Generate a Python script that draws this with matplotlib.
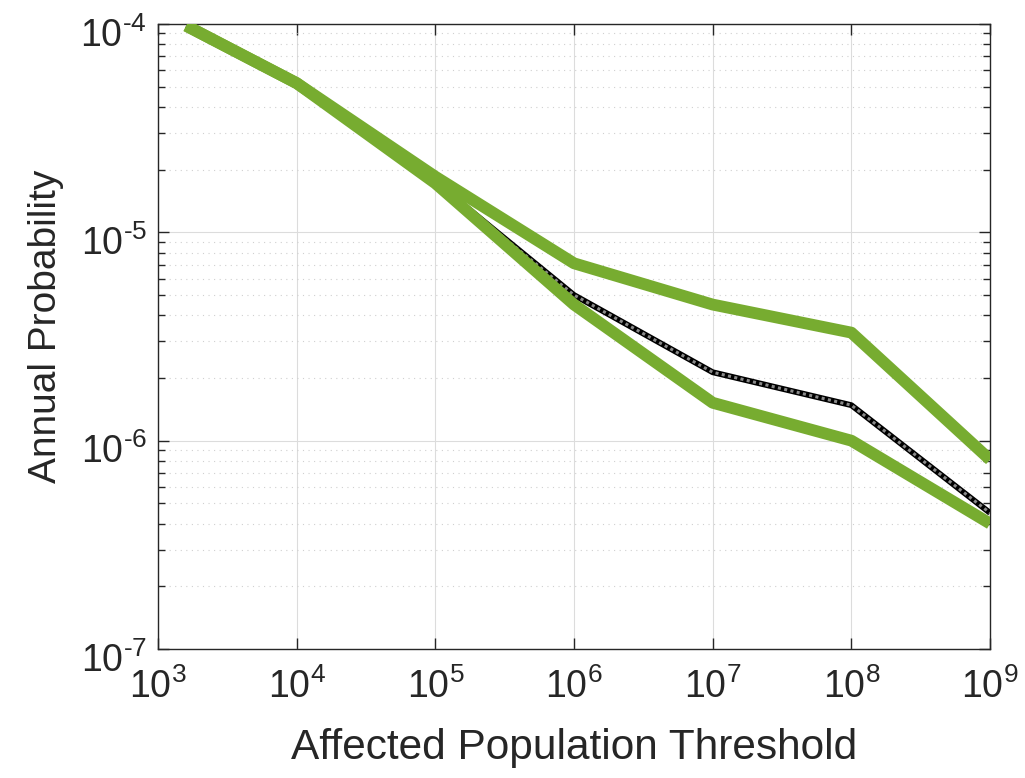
import matplotlib
matplotlib.use("Agg")
import matplotlib.pyplot as plt
import matplotlib.transforms as mtransforms
from matplotlib.ticker import LogLocator, NullLocator, NullFormatter

plt.rcParams['font.family'] = ['Liberation Sans', 'DejaVu Sans']
plt.rcParams['mathtext.fontset'] = 'custom'
plt.rcParams['mathtext.rm'] = 'Liberation Sans'
plt.rcParams['mathtext.it'] = 'Liberation Sans'

# Data
thresholds = [1.6e3, 1e4, 1e5, 1e6, 1e7, 1e8, 1e9]
upper = [9.8e-5, 5.2e-5, 1.85e-5, 7.1e-6, 4.5e-6, 3.3e-6, 8.1e-7]
lower = [9.8e-5, 5.2e-5, 1.72e-5, 4.5e-6, 1.52e-6, 1.0e-6, 4.0e-7]
mean = [9.8e-5, 5.2e-5, 1.75e-5, 5.0e-6, 2.13e-6, 1.48e-6, 4.5e-7]

xticks = [1e3, 1e4, 1e5, 1e6, 1e7, 1e8, 1e9]
xticklabels = ['$10^{3}$', '$10^{4}$', '$10^{5}$', '$10^{6}$', '$10^{7}$', '$10^{8}$', '$10^{9}$']
yticks = [1e-7, 1e-6, 1e-5, 1e-4]
yticklabels = ['$10^{\\text{-7}}$', '$10^{\\text{-6}}$', '$10^{\\text{-5}}$', '$10^{\\text{-4}}$']

fig = plt.figure(figsize=(10.25, 7.78), dpi=100)
ax = fig.add_axes([0.1541, 0.1658, 0.8118, 0.8034])

green = '#77AC30'
ax.plot(thresholds, mean, color='black', lw=4.2, solid_capstyle='butt', zorder=3)
ax.plot(thresholds, mean, color='#8a8a8a', lw=2.2, ls=(0, (1, 1.1)), zorder=4)
ax.plot(thresholds, upper, color=green, lw=8.5, solid_capstyle='butt', zorder=5)
ax.plot(thresholds, lower, color=green, lw=8.5, solid_capstyle='butt', zorder=5)

ax.set_xscale('log')
ax.set_yscale('log')
ax.set_xlim(1e3, 1e9)
ax.set_ylim(1e-7, 1e-4)

ax.set_xticks(xticks)
ax.set_xticklabels(xticklabels)
ax.set_yticks(yticks)
ax.set_yticklabels(yticklabels)
ax.xaxis.set_minor_locator(NullLocator())
ax.yaxis.set_minor_locator(LogLocator(base=10, subs=range(2, 10)))
ax.yaxis.set_minor_formatter(NullFormatter())

axc = '#262626'
ax.tick_params(which='both', direction='in', top=True, right=True, colors=axc,
               labelsize=27, width=1.0)
ax.tick_params(which='major', length=8)
ax.tick_params(axis='x', which='major', pad=14)
ax.tick_params(axis='y', which='major', pad=8)
ax.tick_params(which='minor', length=5)
for s in ax.spines.values():
    s.set_color(axc)
    s.set_linewidth(1.0)

offset = mtransforms.ScaledTranslation(0, -8 / 100, fig.dpi_scale_trans)
for lbl in ax.get_yticklabels():
    lbl.set_transform(lbl.get_transform() + offset)

ax.grid(True, which='major', color='#dcdcdc', lw=0.8, ls='-')
ax.grid(True, which='minor', axis='y', color='#d0d0d0', lw=0.8, ls=(0, (1, 4)))
ax.set_axisbelow(True)

ax.set_xlabel('Affected Population Threshold', fontsize=30.5, color=axc, labelpad=16)
ax.set_ylabel('Annual Probability', fontsize=28, color=axc)
ax.yaxis.set_label_coords(-0.113, 0.517)

fig.savefig('out.png', dpi=100)
